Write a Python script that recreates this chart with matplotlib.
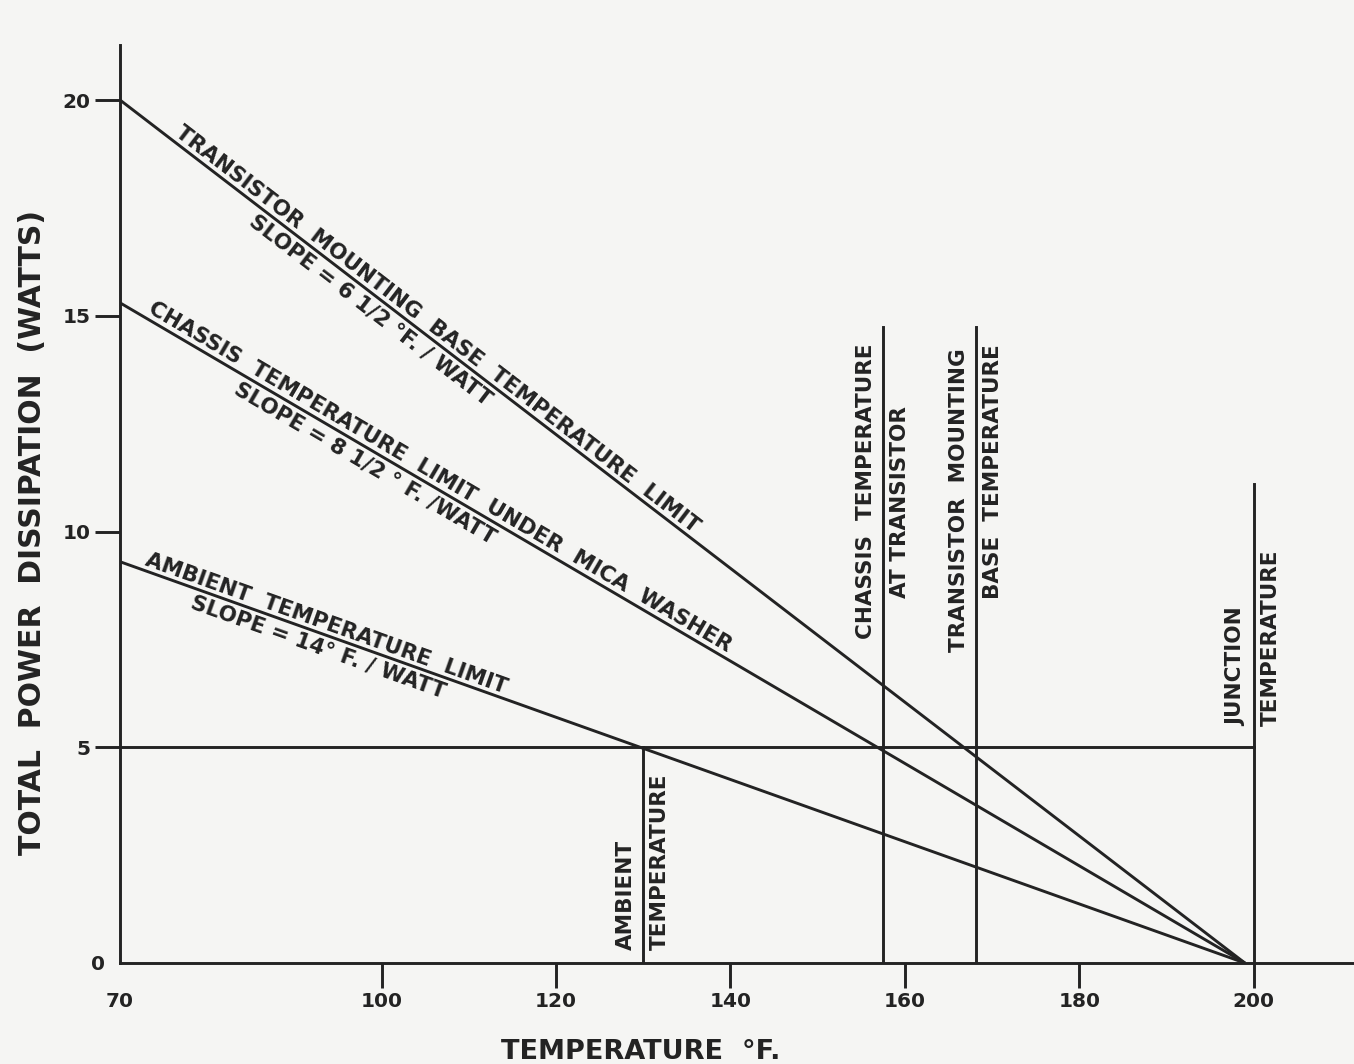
"""Power dissipation vs. temperature limits for a mounted power transistor."""
import math

import matplotlib
matplotlib.use("Agg")
import matplotlib.pyplot as plt

# axis ticks
x_ticks = [70, 100, 120, 140, 160, 180, 200]
y_ticks = [0, 5, 10, 15, 20]

# the three limit lines start at 70 F and all fall to zero near 199 F
line_names = [
    "TRANSISTOR  MOUNTING  BASE  TEMPERATURE  LIMIT",
    "CHASSIS  TEMPERATURE  LIMIT  UNDER  MICA  WASHER",
    "AMBIENT  TEMPERATURE  LIMIT",
]
slope_notes = [
    "SLOPE = 6 1/2 °F. / WATT",
    "SLOPE = 8 1/2 ° F. /WATT",
    "SLOPE = 14° F. / WATT",
]
start_temp = 70
start_watts = [20.0, 15.3, 9.3]
zero_temp = 199

# operating point (5 W) and the temperature markers
op_watts = 5
op_end_temp = 200
marker_temps = [130, 157.5, 168.2, 200]
marker_tops = [5, 14.75, 14.75, 11.1]
marker_left = ["AMBIENT", "CHASSIS  TEMPERATURE", "TRANSISTOR  MOUNTING", "JUNCTION"]
marker_right = ["TEMPERATURE", "AT TRANSISTOR", "BASE  TEMPERATURE", "TEMPERATURE"]

# label layout (where along each line / marker the text sits)
name_at = [105.6, 106.0, 93.2]
note_at = [99.7, 98.9, 93.3]
marker_left_y = [0.3, 10.94, 10.73, 5.5]
marker_right_y = [0.3, 10.68, 11.38, 5.5]
marker_va = ["bottom", "center", "center", "bottom"]

INK = "#232323"
PAPER = "#f5f5f3"
LW = 2.1
FS = 15.5
plt.rcParams["font.family"] = ["DejaVu Sans"]

fig = plt.figure(figsize=(13.54, 10.64), dpi=100, facecolor=PAPER)
ax = fig.add_axes([120 / 1354, 101 / 1064, 1234 / 1354, 918 / 1064])
ax.set_facecolor(PAPER)
ax.set_xlim(70, 70 + 1234 / 8.72)
ax.set_ylim(0, 918 / 43.15)

for spine in ("top", "right"):
    ax.spines[spine].set_visible(False)
for spine in ("left", "bottom"):
    ax.spines[spine].set_linewidth(LW)
    ax.spines[spine].set_color(INK)

ax.set_xticks(x_ticks)
ax.set_yticks(y_ticks)
ax.tick_params(direction="out", length=18, width=LW, color=INK,
               labelsize=14.5, labelcolor=INK, pad=3)
for lbl in ax.get_xticklabels() + ax.get_yticklabels():
    lbl.set_fontweight("bold")
ax.xaxis.get_major_ticks()[0].tick1line.set_visible(False)
ax.yaxis.get_major_ticks()[0].tick1line.set_visible(False)
ax.yaxis.get_major_ticks()[0].set_pad(-7)

# sloped limit lines with their captions
for name, note, w0, xa, xb in zip(line_names, slope_notes, start_watts,
                                  name_at, note_at):
    ax.plot([start_temp, zero_temp], [w0, 0], color=INK, lw=LW,
            solid_capstyle="butt")
    p0 = ax.transData.transform((start_temp, w0))
    p1 = ax.transData.transform((zero_temp, 0))
    a = math.atan2(p1[1] - p0[1], p1[0] - p0[0])
    # name sits just above the line, slope note a little further below it
    for xt, text, va, d in ((xa, name, "bottom", 1.0), (xb, note, "top", -3.0)):
        yt = w0 * (zero_temp - xt) / (zero_temp - start_temp)
        ax.annotate(text, xy=(xt, yt),
                    xytext=(-d * math.sin(a), d * math.cos(a)),
                    textcoords="offset points", rotation=math.degrees(a),
                    rotation_mode="anchor", ha="center", va=va,
                    fontsize=FS, fontweight="bold", color=INK)

# 5 W operating line
ax.plot([start_temp, op_end_temp], [op_watts, op_watts], color=INK, lw=LW)

# temperature markers
for t, top, lt, rt, ly, ry, va in zip(marker_temps, marker_tops, marker_left,
                                     marker_right, marker_left_y,
                                     marker_right_y, marker_va):
    ax.plot([t, t], [0, top], color=INK, lw=LW)
    ax.annotate(lt, xy=(t, ly), xytext=(-5, 0), textcoords="offset points",
                rotation=90, ha="right", va=va, fontsize=FS,
                fontweight="bold", color=INK)
    ax.annotate(rt, xy=(t, ry), xytext=(5, 0), textcoords="offset points",
                rotation=90, ha="left", va=va, fontsize=FS,
                fontweight="bold", color=INK)

ax.set_xlabel("TEMPERATURE  °F.", fontsize=19.5, fontweight="bold", color=INK)
ax.xaxis.set_label_coords((641 - 120) / 1234, -(1052 - 963) / 918)
ax.xaxis.label.set_va("center")
ax.set_ylabel("TOTAL  POWER  DISSIPATION  (WATTS)", fontsize=21.5,
              fontweight="bold", color=INK)
ax.yaxis.set_label_coords((33 - 120) / 1234, (963 - 532) / 918)
ax.yaxis.label.set_va("center")

fig.savefig("out.png", dpi=100, facecolor=PAPER)
